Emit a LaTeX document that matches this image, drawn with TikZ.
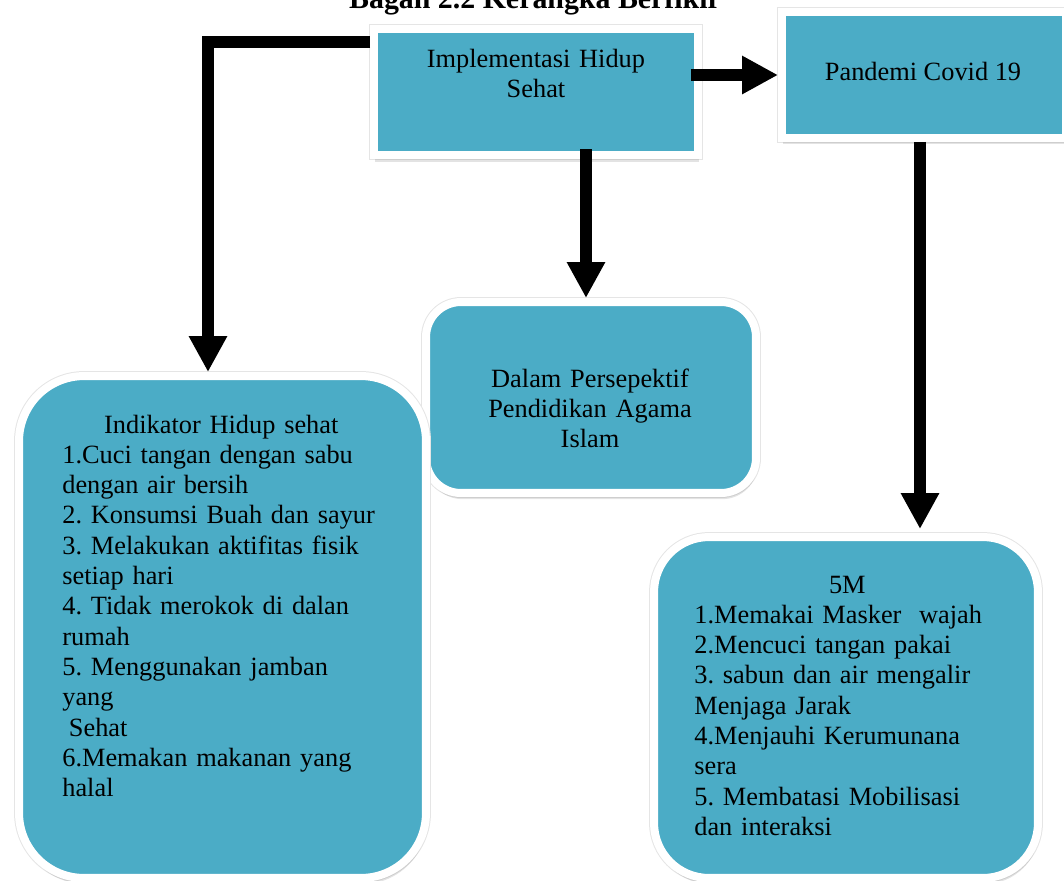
\documentclass[tikz,border=0pt]{standalone}
\usepackage{fontspec}
\setmainfont{Liberation Serif}
\frenchspacing
\usetikzlibrary{arrows.meta,calc,shadows}
\definecolor{biru}{HTML}{4BACC6}

\begin{document}
\begin{tikzpicture}[x=0.02cm, y=-0.02cm, >={Triangle[width=0.72cm,length=0.72cm]},
  kotak/.style={draw=white, line width=0.16cm, fill=biru, inner sep=0,
    preaction={draw=black!10, line width=0.2cm},
    drop shadow={shadow xshift=0.8pt, shadow yshift=-3.5pt, opacity=0.22}},
  teks/.style={inner sep=0, font=\fontsize{15}{17.25}\selectfont},
  panah/.style={->, line width=0.24cm, black}]
  \useasboundingbox (0,0) rectangle (1064,880);
  \clip (0,0) rectangle (1064,880);

  % judul
  \node[teks, font=\bfseries\fontsize{17}{20}\selectfont, anchor=base] (judul) at (535,8) {Bagan 2.2 Kerangka Berfikir};

  % kotak-kotak
  \node[kotak, minimum width=6.48cm, minimum height=2.54cm] (impl) at (536,92) {};
  \node[kotak, minimum width=5.68cm, minimum height=2.52cm] (covid) at (924,75) {};
  \node[kotak, rounded corners=0.7cm, minimum width=6.6cm, minimum height=3.82cm] (dalam) at (591,397.5) {};
  \node[kotak, rounded corners=1.3cm, minimum width=8.14cm, minimum height=10.04cm] (ind) at (222.5,627) {};
  \node[kotak, rounded corners=1.1cm, minimum width=7.68cm, minimum height=6.82cm] (lima) at (846,707.5) {};

  % isi teks
  \node[teks, anchor=base, text width=6cm, align=center] (implT) at (536,67) {Implementasi Hidup\\Sehat};
  \node[teks, anchor=base] (covidT) at (923,80) {Pandemi Covid 19};
  \node[teks, anchor=base, text width=6cm, align=center] (dalamT) at (590,387) {Dalam Persepektif\\Pendidikan Agama\\Islam};
  \node[teks, anchor=base west, text width=6.36cm, align=left] (indT) at (62,433) {%
    \makebox[\linewidth]{Indikator Hidup sehat}\\
    1.Cuci tangan dengan sabu\\
    dengan air bersih\\
    2. Konsumsi Buah dan sayur\\
    3. Melakukan aktifitas fisik\\
    setiap hari\\
    4. Tidak merokok di dalan\\
    rumah\\
    5. Menggunakan jamban\\
    yang\\
    \hspace*{0.25em}Sehat\\
    6.Memakan makanan yang\\
    halal};
  \node[teks, anchor=base west, text width=6.12cm, align=left] (limaT) at (694,593) {%
    \makebox[\linewidth]{5M}\\
    1.Memakai Masker\ \ wajah\\
    2.Mencuci tangan pakai\\
    3. sabun dan air mengalir\\
    Menjaga Jarak\\
    4.Menjauhi Kerumunana\\
    sera\\
    5. Membatasi Mobilisasi\\
    dan interaksi};

  % panah
  \coordinate (a1) at ($(impl.north west)+(0,17.5)$);
  \coordinate (a2) at ($(ind.north)+(-14.5,0)$);
  \draw[panah] (a1) -| (a2);
  \coordinate (b1) at ($(impl.south)+(50,-10)$);
  \draw[panah] (b1) -- (b1 |- dalam.north);
  \coordinate (c1) at ($(impl.east)+(-11,-17)$);
  \draw[panah] (c1) -- (c1 -| covid.west);
  \coordinate (d1) at ($(covid.south)+(-4,0)$);
  \draw[panah] (d1) -- ($(d1 |- lima.north)+(0,-4)$);
\end{tikzpicture}
\end{document}
